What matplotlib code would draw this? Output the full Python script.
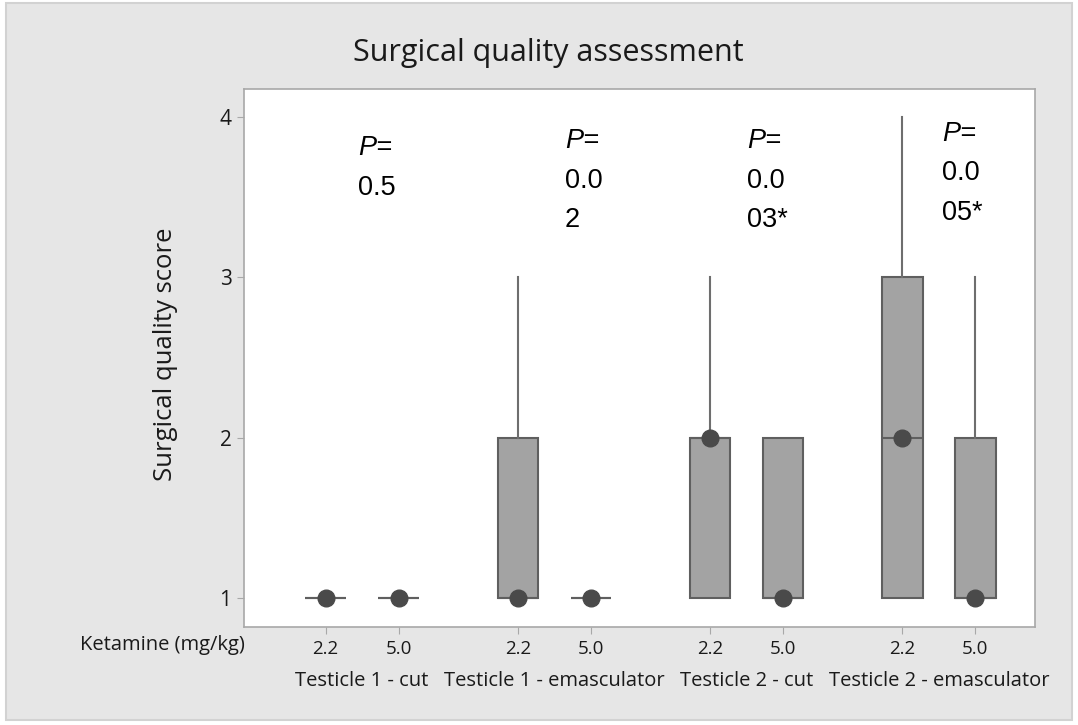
import matplotlib
matplotlib.use("Agg")
import matplotlib.pyplot as plt
from matplotlib.patches import Rectangle
import matplotlib.transforms as mtransforms

# ---- data ----
groups = ['Testicle 1 - cut', 'Testicle 1 - emasculator', 'Testicle 2 - cut', 'Testicle 2 - emasculator']
doses = ['2.2', '5.0']
q1 = [1, 1, 1, 1, 1, 1, 1, 1]
q3 = [1, 1, 2, 1, 2, 2, 3, 2]
medians = [1, 1, 1, 1, 2, 1, 2, 1]
whis_lo = [1, 1, 1, 1, 1, 1, 1, 1]
whis_hi = [1, 1, 3, 1, 3, 2, 4, 3]
means = [1, 1, 1, 1, 2, 1, 2, 1]
p_labels = [['P=', '0.5'], ['P=', '0.0', '2'], ['P=', '0.0', '03*'], ['P=', '0.0', '05*']]
yticks = [1, 2, 3, 4]

W, H = 1078, 725
TXT = '#1a1a1a'
fig = plt.figure(figsize=(W / 100, H / 100), dpi=100)
fig.patch.set_facecolor('white')
fig.patches.append(Rectangle((6 / W, 1 - 720 / H), (1072 - 6) / W, (720 - 3) / H,
                             transform=fig.transFigure, facecolor='#e6e6e6',
                             edgecolor='#d2d2d2', linewidth=1.5, zorder=-10))

ax = fig.add_axes([244 / W, 1 - 627 / H, (1035 - 244) / W, (627 - 89) / H])
ax.set_facecolor('white')

offset = 0.19
positions = []
for g in range(len(groups)):
    positions += [g - offset, g + offset]

stats = []
for i in range(len(positions)):
    stats.append(dict(med=medians[i], q1=q1[i], q3=q3[i], whislo=whis_lo[i],
                      whishi=whis_hi[i], mean=means[i], fliers=[]))

box_edge = '#5f5f5f'
ax.bxp(stats, positions=positions, widths=0.21, patch_artist=True,
       showmeans=True, showcaps=False, manage_ticks=False,
       boxprops=dict(facecolor='#a3a3a3', edgecolor=box_edge, linewidth=1.5),
       medianprops=dict(color=box_edge, linewidth=1.5),
       whiskerprops=dict(color='#6e6e6e', linewidth=1.5),
       meanprops=dict(marker='o', markerfacecolor='#4a4a4a', markeredgecolor='#4a4a4a',
                      markersize=12))

ax.set_xlim(-0.614, 3.50)
ax.set_ylim(0.82, 4.175)

for s in ax.spines.values():
    s.set_color('#a8a8a8')
    s.set_linewidth(1.2)

ax.set_yticks(yticks)
ax.set_yticklabels([str(v) for v in yticks], fontsize=15, family='Open Sans', color=TXT)
ax.tick_params(axis='y', length=5, color='#a8a8a8', pad=4)
ax.set_xticks(positions)
ax.set_xticklabels(doses * len(groups), fontsize=13.5, family='Open Sans', color=TXT)
ax.tick_params(axis='x', length=5, color='#a8a8a8', pad=4)

fig.text(166 / W, 1 - 354 / H, 'Surgical quality score', rotation=90, ha='center',
         va='center', fontsize=18.5, family='Open Sans', color=TXT)

fig.text(548 / W, 1 - 53 / H, 'Surgical quality assessment', ha='center', va='center',
         fontsize=22, family='Open Sans', color=TXT)

trans = mtransforms.blended_transform_factory(ax.transData, fig.transFigure)
for g, name in enumerate(groups):
    ax.text(g, 1 - 681 / H, name, transform=trans, ha='center', va='center',
            fontsize=14.5, family='Open Sans', color=TXT)
fig.text(245 / W, 1 - 645 / H, 'Ketamine (mg/kg)', ha='right', va='center',
         fontsize=14.5, family='Open Sans', color=TXT)

# P-value annotations (x in data, baselines in data)
p_x = [-0.02, 1.056, 2.002, 3.016]
p_y = [[3.7625, 3.5125], [3.806, 3.556, 3.3125], [3.806, 3.556, 3.3125], [3.85, 3.606, 3.356]]
for g, lines in enumerate(p_labels):
    for j, t in enumerate(lines):
        ax.text(p_x[g], p_y[g][j], t, ha='left', va='baseline', fontsize=19.5,
                family='Liberation Sans', style='italic' if t == 'P=' else 'normal')

fig.savefig('out.png', dpi=100)
